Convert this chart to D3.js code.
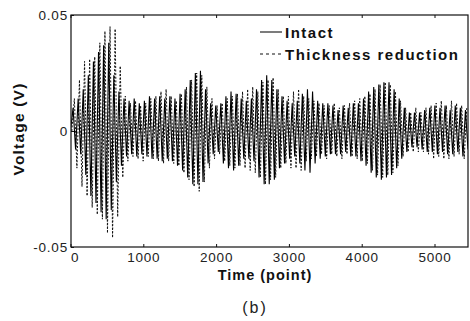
<!DOCTYPE html>
<html>
<head>
<meta charset="utf-8">
<script src="https://cdn.jsdelivr.net/npm/d3@7"></script>
<style>
  html, body { margin: 0; padding: 0; background: #fff; }
  svg { display: block; font-family: "Liberation Sans", Arial, sans-serif; }
</style>
</head>
<body>
<svg id="chart" width="470" height="321"></svg>
<script>
// ---- data (half-cycle peak voltages, in volts x 1000) ----
const halfCycle = 35;          // points between successive peaks
const intactStart = 0;         // time of first intact peak
const reducedStart = 18;       // time of first thickness-reduction peak

const intactPeaks = [
  0, 10, -8, 14, -10, 18, -19, 24, -28, 30,
  -31, 34, -35, 37, -38, 38, -34, 24, -22, 17,
  -15, 14, -11, 13, -10, 14, -11, 12, -10, 13,
  -11, 15, -12, 14, -12, 15, -13, 14, -12, 15,
  -13, 14, -15, 16, -17, 18, -20, 22, -23, 25,
  -23, 26, -22, 18, -14, 12, -10, 11, -9, 12,
  -14, 15, -16, 17, -17, 16, -15, 14, -12, 13,
  -12, 14, -13, 18, -20, 22, -23, 24, -23, 22,
  -21, 18, -16, 15, -14, 13, -12, 12, -11, 13,
  -14, 16, -17, 18, -18, 17, -14, 13, -12, 12,
  -11, 12, -10, 11, -10, 9, -10, 11, -9, 10,
  -11, 12, -11, 12, -13, 14, -15, 17, -18, 19,
  -20, 20, -21, 21, -20, 21, -19, 18, -16, 14,
  -12, 10, -9, 8, -7, 8, -7, 8, -8, 9,
  -9, 10, -9, 11, -10, 10, -9, 11, -10, 9,
  -10, 11, -9, 10, -11, 9, -8
];

const reducedPeaks = [
  0, 14, -16, 22, -24, 30, -28, 31, -33, 32,
  -36, 38, -38, 43, -44, 45, -46, 44, -37, 28,
  -20, 15, -13, 12, -11, 13, -12, 11, -13, 12,
  -11, 14, -12, 15, -13, 17, -14, 18, -13, 15,
  -14, 13, -15, 16, -18, 19, -21, 22, -24, 25,
  -26, 24, -22, 19, -16, 14, -12, 11, -10, 12,
  -13, 14, -15, 15, -16, 16, -15, 17, -16, 18,
  -17, 19, -18, 17, -20, 21, -23, 22, -21, 23,
  -20, 18, -16, 15, -14, 15, -16, 17, -16, 18,
  -17, 15, -13, 14, -12, 13, -11, 12, -10, 11,
  -12, 11, -10, 12, -11, 10, -12, 11, -10, 12,
  -11, 13, -12, 14, -13, 15, -14, 16, -17, 18,
  -19, 20, -20, 21, -19, 20, -18, 17, -15, 13,
  -11, 10, -9, 8, -9, 10, -9, 8, -9, 10,
  -10, 11, -12, 12, -11, 13, -12, 11, -12, 13,
  -11, 12, -10, 11, -12, 10, -9
];

const xTicks = [0, 1000, 2000, 3000, 4000, 5000];
const xTickLabels = ["0", "1000", "2000", "3000", "4000", "5000"];
const yTicks = [-0.05, 0, 0.05];
const yTickLabels = ["-0.05", "0", "0.05"];
const seriesNames = ["Intact", "Thickness reduction"];
const xDomain = [0, 5460];
const yDomain = [-0.05, 0.05];

// ---- layout ----
const svg = d3.select("#chart");
const L = 71, R = 468, T = 15, B = 247;

const x = d3.scaleLinear().domain(xDomain).range([70.5, R]);
const y = d3.scaleLinear().domain(yDomain).range([B, T]);

const toPoints = (peaks, start) => peaks.map((v, i) => ({ t: start + i * halfCycle, v: v / 1000 }));
const intact = toPoints(intactPeaks, intactStart).filter(d => d.t <= xDomain[1]);
const reduced = toPoints(reducedPeaks, reducedStart).filter(d => d.t <= xDomain[1]);

const line = d3.line().x(d => x(d.t)).y(d => y(d.v));

svg.append("clipPath").attr("id", "clip")
  .append("rect").attr("x", L).attr("y", T).attr("width", R - L).attr("height", B - T);

const plot = svg.append("g").attr("clip-path", "url(#clip)");

plot.append("path").datum(reduced)
  .attr("d", line)
  .attr("fill", "none").attr("stroke", "#111")
  .attr("stroke-width", 1).attr("stroke-dasharray", "2,1.6");

plot.append("path").datum(intact)
  .attr("d", line)
  .attr("fill", "none").attr("stroke", "#000")
  .attr("stroke-width", 1.1);

// frame
svg.append("rect").attr("x", L).attr("y", T).attr("width", R - L).attr("height", B - T)
  .attr("fill", "none").attr("stroke", "#111").attr("stroke-width", 1.2);

// axes
const tickFont = g => g.selectAll("text")
  .attr("font-size", 13.5).attr("letter-spacing", "0.8px")
  .attr("fill", "#222").attr("font-family", "Liberation Sans, Arial, sans-serif");

const xAxis = svg.append("g").attr("transform", `translate(0,${B})`)
  .call(d3.axisBottom(x).tickValues(xTicks).tickSize(-3).tickPadding(5)
    .tickFormat((d, i) => xTickLabels[i]));
xAxis.select(".domain").remove();
xAxis.selectAll("line").attr("stroke", "#111");
xAxis.call(tickFont);
xAxis.selectAll("text").filter((d, i) => i === 0).attr("text-anchor", "start").attr("dx", "0");

const xTop = svg.append("g").attr("transform", `translate(0,${T})`)
  .call(d3.axisTop(x).tickValues(xTicks).tickSize(-3).tickFormat(""));
xTop.select(".domain").remove();
xTop.selectAll("line").attr("stroke", "#111");

const yAxis = svg.append("g").attr("transform", `translate(${L},0)`)
  .call(d3.axisLeft(y).tickValues(yTicks).tickSize(-3).tickPadding(3)
    .tickFormat((d, i) => yTickLabels[i]));
yAxis.select(".domain").remove();
yAxis.selectAll("line").attr("stroke", "#111");
yAxis.call(tickFont);

// axis titles
svg.append("text")
  .attr("x", 265).attr("y", 280)
  .attr("text-anchor", "middle")
  .attr("font-size", 14.5).attr("font-weight", "bold").attr("letter-spacing", "1px")
  .attr("fill", "#111")
  .text("Time (point)");

svg.append("text")
  .attr("transform", "translate(24,129) rotate(-90)")
  .attr("text-anchor", "middle")
  .attr("font-size", 15.5).attr("font-weight", "bold").attr("letter-spacing", "1.2px")
  .attr("fill", "#111")
  .text("Voltage (V)");

svg.append("text")
  .attr("x", 255).attr("y", 313)
  .attr("text-anchor", "middle")
  .attr("font-size", 16).attr("letter-spacing", "2px")
  .attr("fill", "#222")
  .text("(b)");

// legend
const legend = svg.append("g");
const legendY = [32, 54];
seriesNames.forEach((name, i) => {
  legend.append("line")
    .attr("x1", 260).attr("x2", 282).attr("y1", legendY[i]).attr("y2", legendY[i])
    .attr("stroke", "#111").attr("stroke-width", 1.1)
    .attr("stroke-dasharray", i === 1 ? "3,3" : null);
  legend.append("text")
    .attr("x", 285).attr("y", legendY[i] + 6)
    .attr("font-size", 15).attr("font-weight", "bold").attr("letter-spacing", "1.5px")
    .attr("fill", "#111")
    .text(name);
});
</script>
</body>
</html>
